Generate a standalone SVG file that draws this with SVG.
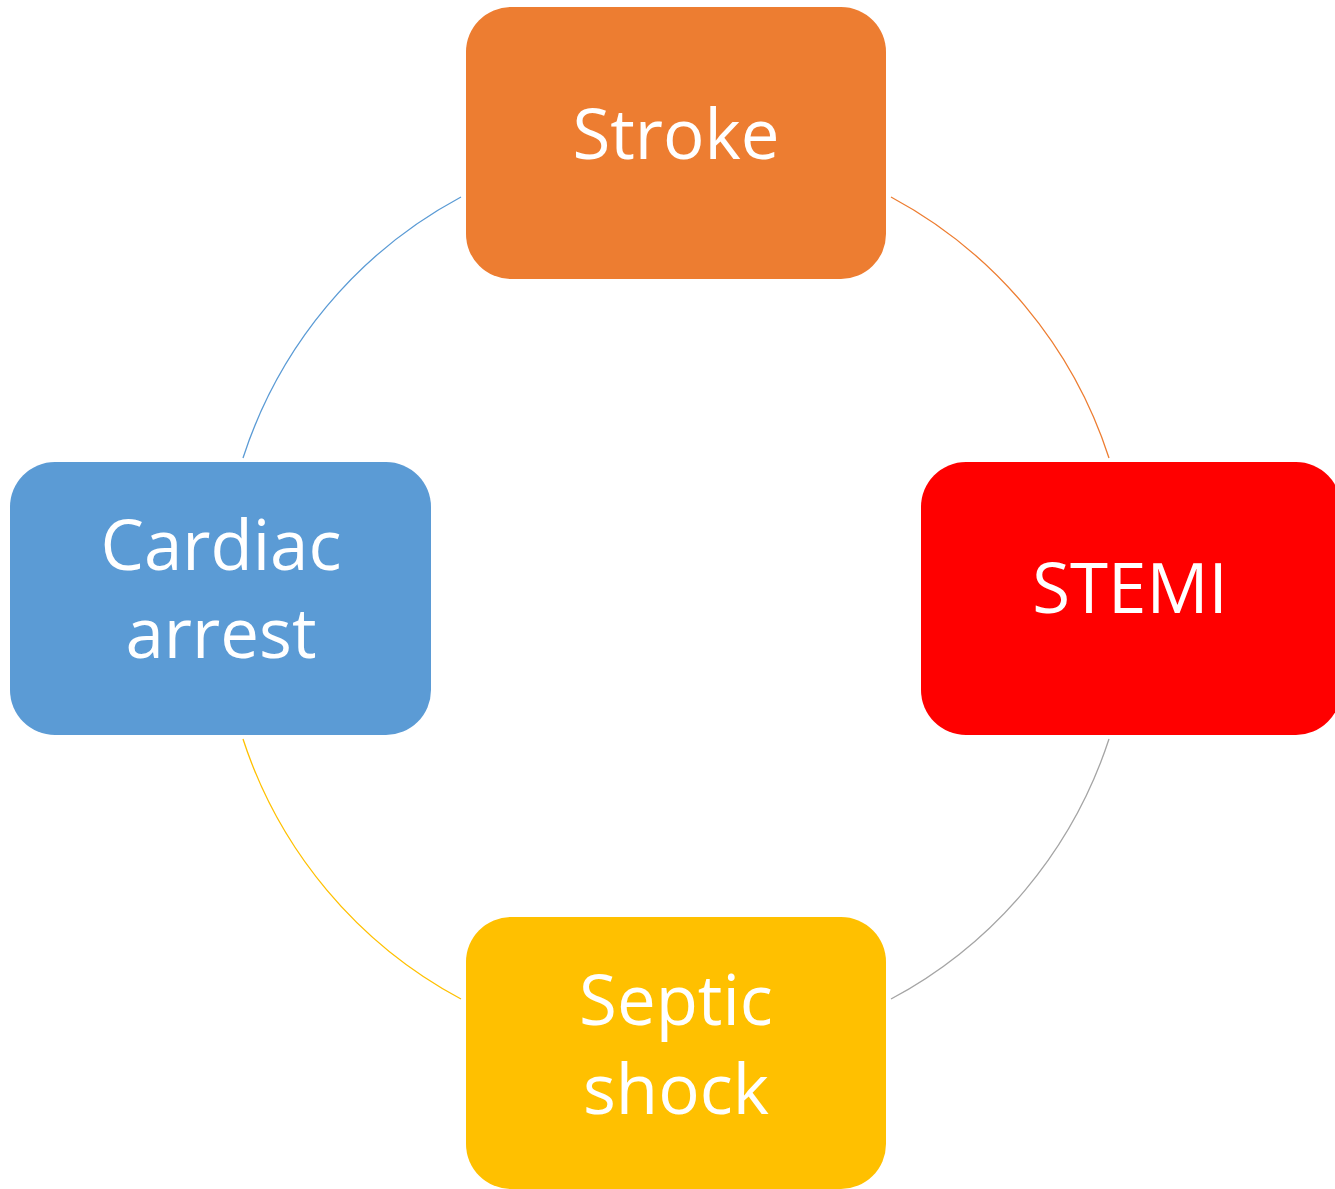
<svg xmlns="http://www.w3.org/2000/svg" width="1335" height="1189" viewBox="0 0 1335 1189">
<style>
.lbl{font-family:"Open Sans","Noto Sans","Liberation Sans",sans-serif;font-size:69px;fill:#fff;text-anchor:middle}
.arc{fill:none;stroke-width:1.3}
</style>
<rect width="1335" height="1189" fill="#fff"/>
<g id="connectors">
<path class="arc" stroke="#ED7D31" d="M891,197 A455,455 0 0 1 1109,458"/>
<path class="arc" stroke="#A5A5A5" d="M1109,739 A455,455 0 0 1 891,999"/>
<path class="arc" stroke="#FFC000" d="M461,999 A455,455 0 0 1 243,739"/>
<path class="arc" stroke="#5B9BD5" d="M243,458 A455,455 0 0 1 461,197"/>
</g>
<g id="stroke">
<rect x="466" y="7" width="420" height="272" rx="45" fill="#ED7D31"/>
<text class="lbl" x="676" y="159">Stroke</text>
</g>
<g id="stemi">
<rect x="921" y="462" width="420" height="273" rx="45" fill="#FF0000"/>
<text class="lbl" x="1130" y="613">STEMI</text>
</g>
<g id="septic">
<rect x="466" y="917" width="420" height="272" rx="45" fill="#FFC000"/>
<text class="lbl" x="676" y="1025">Septic</text>
<text class="lbl" x="676" y="1114">shock</text>
</g>
<g id="cardiac">
<rect x="10" y="462" width="421" height="273" rx="45" fill="#5B9BD5"/>
<text class="lbl" x="221" y="570">Cardiac</text>
<text class="lbl" x="221" y="658">arrest</text>
</g>
</svg>
